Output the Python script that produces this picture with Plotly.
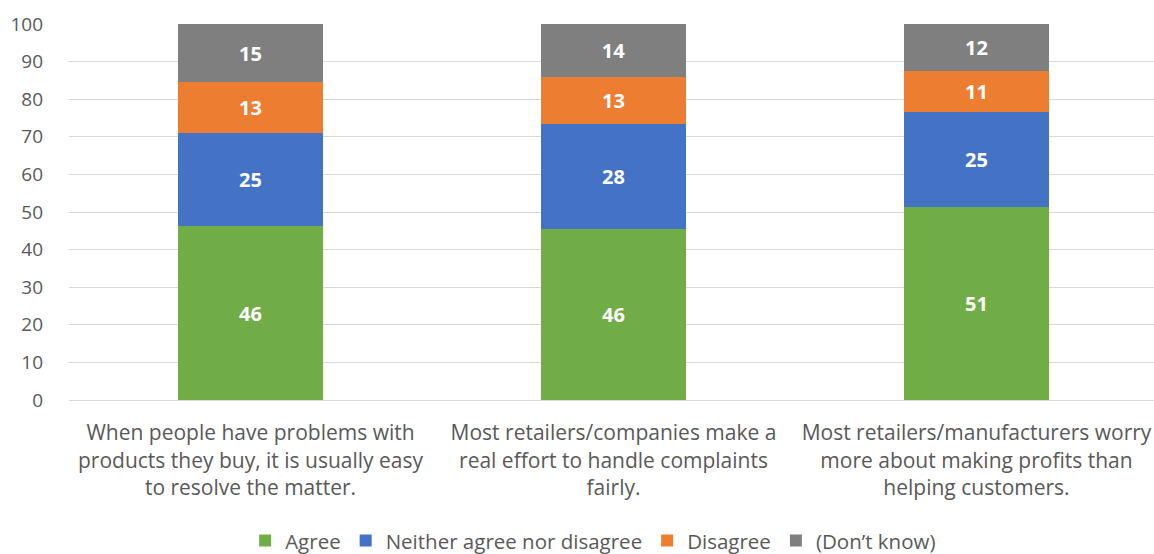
import plotly.graph_objects as go

categories = [
    "When people have problems with<br>products they buy, it is usually easy<br>to resolve the matter.",
    "Most retailers/companies make a<br>real effort to handle complaints<br>fairly.",
    "Most retailers/manufacturers worry<br>more about making profits than<br>helping customers.",
]
series_names = ["Agree", "Neither agree nor disagree", "Disagree", "(Don\u2019t know)"]
agree = [46.2, 45.6, 51.3]
neither = [24.9, 27.8, 25.4]
disagree = [13.4, 12.6, 10.9]
dont_know = [15.4, 14.0, 12.4]
colors = ["#70AD47", "#4472C4", "#ED7D31", "#7F7F7F"]
y_ticks = list(range(0, 101, 10))

FONT = "Open Sans"
fig = go.Figure()
for name, vals, col in zip(series_names, [agree, neither, disagree, dont_know], colors):
    fig.add_trace(go.Bar(
        name=name, x=categories, y=vals,
        marker=dict(color=col, line=dict(width=0)),
        texttemplate="<b>%{y:.0f}</b>", textposition="inside",
        insidetextanchor="middle", constraintext="none",
        textfont=dict(color="white", size=20, family=FONT),
    ))

fig.update_layout(
    barmode="stack", bargap=0.6,
    width=1154, height=554,
    margin=dict(l=69, r=0, t=24, b=154),
    plot_bgcolor="white", paper_bgcolor="white",
    font=dict(family=FONT, color="#595959", size=18),
    legend=dict(orientation="h", xref="container", x=0.514, xanchor="center",
                yref="container", y=0.024, yanchor="middle",
                font=dict(size=20.5, color="#595959"), traceorder="normal",
                itemwidth=30),
    showlegend=True,
)
fig.update_yaxes(range=[0, 100], tickvals=y_ticks, showgrid=True,
                 gridcolor="#D9D9D9", gridwidth=1, zeroline=False,
                 tickfont=dict(size=19, color="#595959"), ticklabelstandoff=25,
                 showline=False, automargin=False)
fig.update_xaxes(range=[-0.5, 2.489], showline=True, linecolor="#D9D9D9", linewidth=1,
                 tickfont=dict(size=21, color="#595959"), ticklabelstandoff=14,
                 automargin=False)
fig.write_html("out.html", config={"displayModeBar": False},
               post_script="document.body.style.margin='0';")
